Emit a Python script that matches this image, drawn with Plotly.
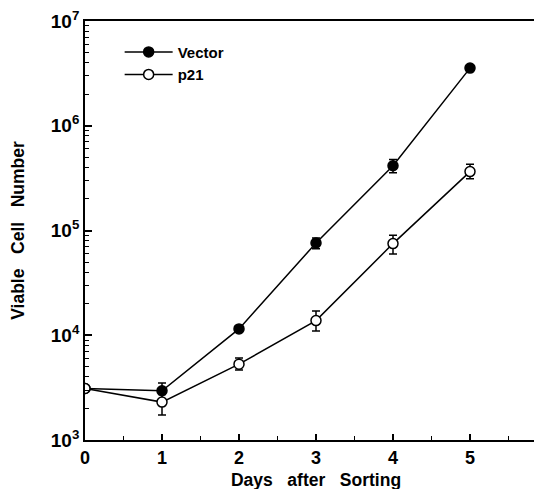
import plotly.graph_objects as go

days = [0, 1, 2, 3, 4, 5]
vector = [3100, 2950, 11500, 76000, 415000, 3550000]
vector_err = [0, 550, 500, 9000, 60000, 0]
p21 = [3100, 2300, 5300, 13800, 75000, 365000]
p21_err_plus = [0, 420, 750, 3200, 15000, 65000]
p21_err_minus = [0, 570, 650, 2800, 15500, 53000]

y_ticks = [1e3, 1e4, 1e5, 1e6, 1e7]
y_ticktext = ["10<sup>3</sup>", "10<sup>4</sup>", "10<sup>5</sup>", "10<sup>6</sup>", "10<sup>7</sup>"]
x_ticks = [0, 1, 2, 3, 4, 5, 6]
x_minor = [0.5, 1.5, 2.5, 3.5, 4.5, 5.5]
y_minor = [d * k for d in y_ticks[:-1] for k in range(2, 10)]

font_main = "Liberation Sans, Arial, sans-serif"

fig = go.Figure()
fig.add_trace(go.Scatter(
    x=days, y=vector, name="Vector", mode="lines+markers",
    line=dict(color="black", width=1.5),
    marker=dict(symbol="circle", size=10, color="black", line=dict(color="black", width=1.5)),
    error_y=dict(type="data", array=vector_err, color="black", thickness=1.5, width=4),
))
fig.add_trace(go.Scatter(
    x=days, y=p21, name="p21", mode="lines+markers",
    line=dict(color="black", width=1.5),
    marker=dict(symbol="circle", size=10, color="white", line=dict(color="black", width=1.5)),
    error_y=dict(type="data", array=p21_err_plus, arrayminus=p21_err_minus,
                 color="black", thickness=1.5, width=4),
))
# invisible trace to activate the minor-tick overlay axes
fig.add_trace(go.Scatter(x=[days[0]], y=[vector[0]], xaxis="x2", yaxis="y2",
                         mode="markers", marker=dict(opacity=0), showlegend=False, hoverinfo="skip"))

fig.update_layout(
    width=542, height=489,
    margin=dict(l=77, r=3, t=13, b=57),
    plot_bgcolor="white", paper_bgcolor="white",
    font=dict(family=font_main, color="black", size=15),
    showlegend=True,
    legend=dict(x=0.075, y=0.965, xanchor="left", yanchor="top",
                bgcolor="rgba(0,0,0,0)", font=dict(size=15, family=font_main, weight="bold"),
                itemwidth=48, tracegroupgap=2),
    xaxis=dict(
        range=[0, 6], tickmode="array", tickvals=x_ticks, automargin=False,
        ticks="inside", ticklen=6, tickwidth=1.5, tickcolor="black",
        showline=True, linecolor="black", linewidth=1.8, mirror=True,
        showgrid=False, zeroline=False, ticklabeloverflow="allow",
        tickfont=dict(size=18, family=font_main, weight="bold"),
        title=dict(text="Days   after   Sorting", font=dict(size=17.5, family=font_main, weight="bold"), standoff=7),
    ),
    yaxis=dict(
        type="log", range=[3, 7], tickmode="array", tickvals=y_ticks, ticktext=y_ticktext,
        automargin=False, ticklabeloverflow="allow",
        ticks="inside", ticklen=7, tickwidth=1.5, tickcolor="black",
        showline=True, linecolor="black", linewidth=1.8, mirror=True,
        showgrid=False, zeroline=False,
        tickfont=dict(size=19, family=font_main, weight="bold"),
        title=dict(text="Viable   Cell   Number", font=dict(size=17.5, family=font_main, weight="bold"), standoff=22),
    ),
    xaxis2=dict(
        range=[0, 6], overlaying="x", side="bottom", anchor="y2",
        tickmode="array", tickvals=x_minor, showticklabels=False,
        ticks="inside", ticklen=4, tickwidth=1.2, tickcolor="black",
        showline=False, showgrid=False, zeroline=False, automargin=False,
    ),
    yaxis2=dict(
        type="log", range=[3, 7], overlaying="y", side="left", anchor="x2",
        tickmode="array", tickvals=y_minor, showticklabels=False,
        ticks="inside", ticklen=4, tickwidth=1.2, tickcolor="black",
        showline=False, showgrid=False, zeroline=False, automargin=False,
    ),
)

fig.write_html("out.html")
